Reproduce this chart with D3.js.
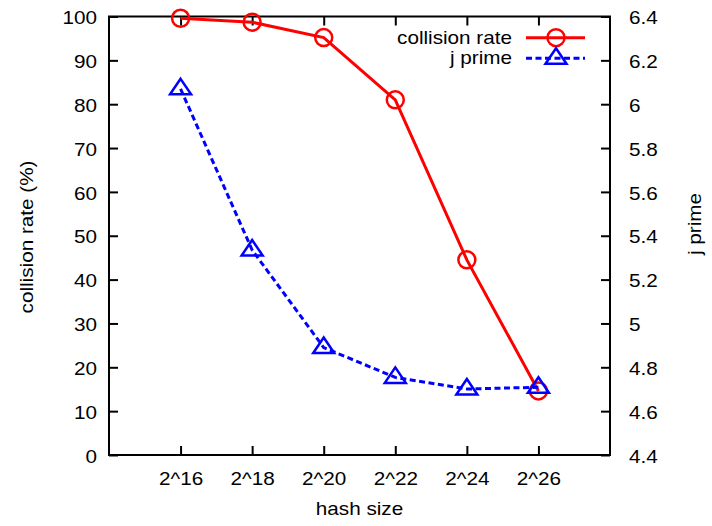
<!DOCTYPE html>
<html>
<head>
<meta charset="utf-8">
<script src="https://cdn.jsdelivr.net/npm/d3@7"></script>
<style>
  html, body { margin: 0; padding: 0; background: #fff; }
  svg { display: block; }
  text { font-family: "Liberation Sans", Arial, sans-serif; font-size: 18px; fill: #000; }
</style>
</head>
<body>
<svg id="chart" width="712" height="526"></svg>
<script>
// ---- data ----
const categories = ["2^16", "2^18", "2^20", "2^22", "2^24", "2^26"];
const collisionRate = [99.6, 98.7, 95.2, 81.0, 44.5, 14.6];
const jPrime = [6.07, 5.335, 4.89, 4.754, 4.701, 4.709];
const leftTicks = [0, 10, 20, 30, 40, 50, 60, 70, 80, 90, 100];
const rightTicks = [4.4, 4.6, 4.8, 5.0, 5.2, 5.4, 5.6, 5.8, 6.0, 6.2, 6.4];
const rightTickLabels = ["4.4", "4.6", "4.8", "5", "5.2", "5.4", "5.6", "5.8", "6", "6.2", "6.4"];
const seriesNames = ["collision rate", "j prime"];

// ---- layout ----
const L = 109, R = 610, T = 16.5, B = 455;
const SX = 1.15; // horizontal glyph stretch
const svg = d3.select("#chart");

const x = d3.scaleLinear().domain([0, categories.length + 1]).range([L, R]);
const y = d3.scaleLinear().domain([0, 100]).range([B, T]);
const y2 = d3.scaleLinear().domain([4.4, 6.4]).range([B, T]);

function stretchTicks(g, anchorX) {
  g.selectAll(".tick text").each(function() {
    const t = d3.select(this);
    const xx = +t.attr("x") || 0;
    t.attr("x", xx / SX).attr("transform", `scale(${SX},1)`);
  });
}

// frame
svg.append("rect").attr("x", L).attr("y", T).attr("width", R - L).attr("height", B - T)
  .attr("fill", "none").attr("stroke", "#000").attr("stroke-width", 2);

// left axis
const gl = svg.append("g").attr("transform", `translate(${L},0)`)
  .call(d3.axisLeft(y).tickValues(leftTicks).tickFormat(d3.format("d"))
    .tickSizeInner(-9).tickSizeOuter(0).tickPadding(12));
gl.select(".domain").remove();
gl.selectAll(".tick line").attr("stroke", "#000").attr("stroke-width", 2);
gl.selectAll(".tick text").attr("dy", "0.4em");
stretchTicks(gl);

// right axis
const gr = svg.append("g").attr("transform", `translate(${R},0)`)
  .call(d3.axisRight(y2).tickValues(rightTicks).tickFormat((d, i) => rightTickLabels[i])
    .tickSizeInner(-9).tickSizeOuter(0).tickPadding(19));
gr.select(".domain").remove();
gr.selectAll(".tick line").attr("stroke", "#000").attr("stroke-width", 2);
gr.selectAll(".tick text").attr("dy", "0.4em");
stretchTicks(gr);

// bottom axis
const idx = categories.map((c, i) => i + 1);
const gb = svg.append("g").attr("transform", `translate(0,${B})`)
  .call(d3.axisBottom(x).tickValues(idx).tickFormat((d) => categories[d - 1])
    .tickSizeInner(-9).tickSizeOuter(0).tickPadding(17));
gb.select(".domain").remove();
gb.selectAll(".tick line").attr("stroke", "#000").attr("stroke-width", 2);
stretchTicks(gb);

// top mirror ticks
const gt = svg.append("g").attr("transform", `translate(0,${T})`)
  .call(d3.axisTop(x).tickValues(idx).tickFormat("")
    .tickSizeInner(-9).tickSizeOuter(0));
gt.select(".domain").remove();
gt.selectAll(".tick line").attr("stroke", "#000").attr("stroke-width", 2);

// axis titles
svg.append("text").attr("transform", `translate(${(L + R) / 2},515) scale(${SX},1)`)
  .attr("text-anchor", "middle").text("hash size");
svg.append("text").attr("transform", `translate(33,237) rotate(-90) scale(${SX},1)`)
  .attr("text-anchor", "middle").text("collision rate (%)");
svg.append("text").attr("transform", `translate(701,224) rotate(-90) scale(${SX},1)`)
  .attr("text-anchor", "middle").text("j prime");

// series
const red = "#ff0000", blue = "#0000ff";
const triPath = "M0,-10L10.5,5.5L-10.5,5.5Z";

const lineRed = d3.line().x((d, i) => x(i + 1)).y(d => y(d));
svg.append("path").datum(collisionRate).attr("d", lineRed)
  .attr("fill", "none").attr("stroke", red).attr("stroke-width", 3);
svg.selectAll(".cr").data(collisionRate).enter().append("circle")
  .attr("cx", (d, i) => x(i + 1)).attr("cy", d => y(d)).attr("r", 8.5)
  .attr("fill", "none").attr("stroke", red).attr("stroke-width", 2.5);

const lineBlue = d3.line().x((d, i) => x(i + 1)).y(d => y2(d));
svg.append("path").datum(jPrime).attr("d", lineBlue)
  .attr("fill", "none").attr("stroke", blue).attr("stroke-width", 3)
  .attr("stroke-dasharray", "6,3.5");
svg.selectAll(".jp").data(jPrime).enter().append("path")
  .attr("transform", (d, i) => `translate(${x(i + 1)},${y2(d)})`)
  .attr("d", triPath).attr("fill", "none").attr("stroke", blue).attr("stroke-width", 2.5);

// legend
const legY = [37.7, 58.3];
svg.append("text").attr("transform", `translate(512,${legY[0] + 6}) scale(${SX},1)`)
  .attr("text-anchor", "end").text(seriesNames[0]);
svg.append("line").attr("x1", 526).attr("x2", 585).attr("y1", legY[0]).attr("y2", legY[0])
  .attr("stroke", red).attr("stroke-width", 3);
svg.append("circle").attr("cx", 556).attr("cy", legY[0]).attr("r", 8.5)
  .attr("fill", "none").attr("stroke", red).attr("stroke-width", 2.5);

svg.append("text").attr("transform", `translate(512,${legY[1] + 6}) scale(${SX},1)`)
  .attr("text-anchor", "end").text(seriesNames[1]);
svg.append("line").attr("x1", 526).attr("x2", 585).attr("y1", legY[1]).attr("y2", legY[1])
  .attr("stroke", blue).attr("stroke-width", 3).attr("stroke-dasharray", "6,3.5");
svg.append("path").attr("transform", `translate(556,${legY[1]})`)
  .attr("d", triPath).attr("fill", "none").attr("stroke", blue).attr("stroke-width", 2.5);
</script>
</body>
</html>
